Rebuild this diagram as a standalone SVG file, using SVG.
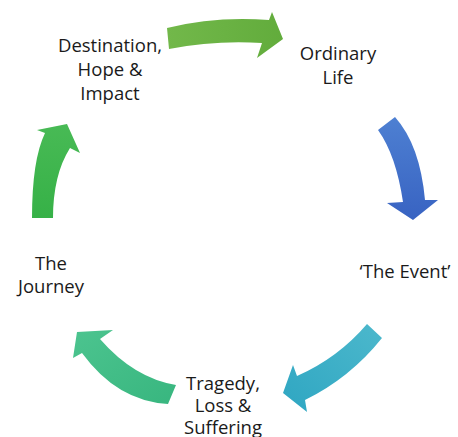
<svg xmlns="http://www.w3.org/2000/svg" width="458" height="437" viewBox="0 0 458 437">
<style>
text{font-family:"Open Sans","Liberation Sans",sans-serif;font-size:18.5px;fill:#1a1a1a;text-anchor:middle}
</style>
<defs>
<linearGradient id="gTop" x1="0" y1="0" x2="1" y2="0"><stop offset="0" stop-color="#72b84a"/><stop offset="1" stop-color="#62ac3c"/></linearGradient>
<linearGradient id="gBlue" x1="0" y1="0" x2="0" y2="1"><stop offset="0" stop-color="#4e80d2"/><stop offset="1" stop-color="#3863c2"/></linearGradient>
<linearGradient id="gTeal" x1="1" y1="0" x2="0" y2="1"><stop offset="0" stop-color="#4cb8cc"/><stop offset="1" stop-color="#2fa6c2"/></linearGradient>
<linearGradient id="gSea" x1="0" y1="0" x2="1" y2="1"><stop offset="0" stop-color="#4cc48f"/><stop offset="1" stop-color="#38b67f"/></linearGradient>
<linearGradient id="gLeft" x1="0" y1="0" x2="0" y2="1"><stop offset="0" stop-color="#48ba55"/><stop offset="1" stop-color="#36b147"/></linearGradient>
</defs>
<g id="connectors">
<path d="M167,28 Q215,16 269,20 L272,12 L283,39 L257,58 L262,43 Q215,40 169,49 Z" fill="url(#gTop)"/>
<path d="M378,130 Q396,155 403,202 L387,203 L413,220 L438,200 L425,200 Q420,145 395,117 Z" fill="url(#gBlue)"/>
<path d="M367,324 Q338,358 297,376 L293,365 L283,393 L307,412 L305,400 Q350,378 382,338 Z" fill="url(#gTeal)"/>
<path d="M176,385 Q134,378 100,339 L113,330 L77,332 L73,358 L82,353 Q117,401 168,404 Z" fill="url(#gSea)"/>
<path d="M32,218 Q32,160 45,133 L37,130 L67,124 L80,153 L70,148 Q53,175 53,218 Z" fill="url(#gLeft)"/>
</g>
<g id="node-destination"><text x="110" y="52">Destination,</text><text x="110" y="76">Hope &amp;</text><text x="110" y="100">Impact</text></g>
<g id="node-ordinary"><text x="338" y="60">Ordinary</text><text x="338" y="84">Life</text></g>
<g id="node-event"><text x="405" y="278">‘The Event’</text></g>
<g id="node-tragedy"><text x="223" y="390">Tragedy,</text><text x="223" y="412">Loss &amp;</text><text x="223" y="434">Suffering</text></g>
<g id="node-journey"><text x="51" y="270">The</text><text x="51" y="293">Journey</text></g>
</svg>
